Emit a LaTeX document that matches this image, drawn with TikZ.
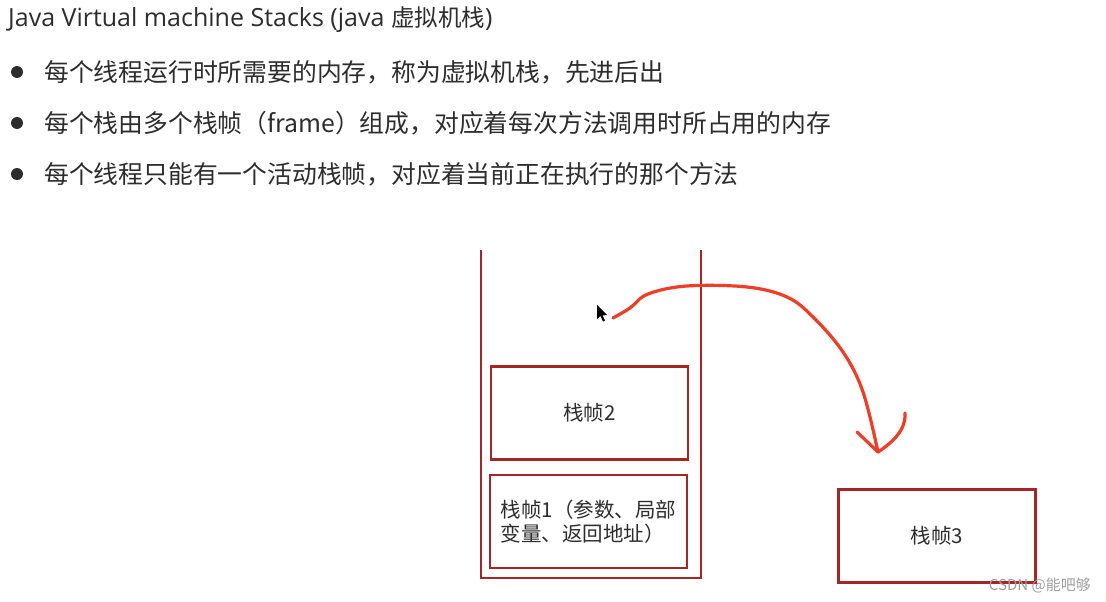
\documentclass[tikz,border=0pt]{standalone}
\usepackage{fontspec}
\setmainfont{Noto Sans CJK SC}
\newfontfamily\latinf{Open Sans}
\definecolor{boxred}{RGB}{165,38,38}
\definecolor{penred}{RGB}{238,62,40}
\definecolor{txt}{RGB}{45,45,45}
\begin{document}
\begin{tikzpicture}[x=1pt,y=-1pt,
  frame/.style={draw=boxred, line width=2.2pt, minimum width=197pt, minimum height=93pt,
    inner sep=0pt, font=\fontsize{20.5}{23.5}\selectfont, text=txt},
  bullettext/.style={anchor=west, inner sep=0pt, text=txt, font=\fontsize{24.8}{28}\selectfont},
  pen/.style={draw=penred, line width=3.2pt, line cap=round, line join=round}]
\useasboundingbox (0,0) rectangle (1106,602);
\fill[white] (0,0) rectangle (1106,602);
% title
\node[anchor=west, inner sep=0pt, text=txt, font=\fontsize{23.5}{26}\selectfont] (title) at (8,20) {{\latinf\fontsize{25}{28}\selectfont Java Virtual machine Stacks (java }虚拟机栈{\latinf\fontsize{25}{28}\selectfont )}};
% bullets
\fill[txt] (17,72) circle (6pt);
\fill[txt] (17,123) circle (6pt);
\fill[txt] (17,174) circle (6pt);
\node[bullettext] (b1) at (44,72) {每个线程运行时所需要的内存，称为虚拟机栈，先进后出};
\node[bullettext] (b2) at (44,123) {每个栈由多个栈帧（frame）组成，对应着每次方法调用时所占用的内存};
\node[bullettext] (b3) at (44,174) {每个线程只能有一个活动栈帧，对应着当前正在执行的那个方法};
% stack outline
\coordinate (sl) at (481,250);
\coordinate (sr) at (701,250);
\draw[boxred, line width=2.2pt] (sl) -- (481,578) -- (701,578) -- (sr);
% frames
\node[frame] (f2) at (589.5,413) {栈帧2};
\node[frame, align=left] (f1) at (588.5,521.5) {栈帧1（参数、局部\\变量、返回地址）};
\node[frame] (f3) at (937,536) {栈帧3};
% cursor
\fill[black] (597,305) -- (597,319) -- (600.5,316) -- (603,321.5) -- (605,320.5) -- (602.5,315.5) -- (607,315) -- cycle;
% red hand-drawn arrow
\coordinate (astart) at (613,318);
\coordinate (atip) at (878,452);
\draw[pen] plot[smooth, tension=0.6] coordinates {(613,318) (630,308) (648,294) (687,286) (747,287) (787,297) (813,317) (843,352) (863,392) (878,452)};
\draw[pen] (857,432) -- (atip);
\draw[pen] (atip) .. controls (893,442) and (906,430) .. (905,413);
% watermark
\node[anchor=east, inner sep=0pt, text=gray!75, font=\fontsize{15}{15}\selectfont] (wm) at (1091,585) {CSDN @能吧够};
\end{tikzpicture}
\end{document}
